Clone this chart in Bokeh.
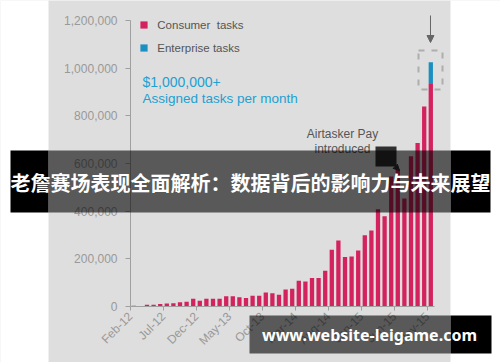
import math
from bokeh.plotting import figure
from bokeh.models import (Range1d, FixedTicker, NumeralTickFormatter, BoxAnnotation, Label,
                          Arrow, NormalHead, Legend, LegendItem, ColumnDataSource, LinearAxis)
from bokeh.embed import file_html
from bokeh.resources import INLINE

months = ["Feb-12", "Mar-12", "Apr-12", "May-12", "Jun-12", "Jul-12", "Aug-12", "Sep-12", "Oct-12", "Nov-12", "Dec-12",
          "Jan-13", "Feb-13", "Mar-13", "Apr-13", "May-13", "Jun-13", "Jul-13", "Aug-13", "Sep-13", "Oct-13", "Nov-13", "Dec-13",
          "Jan-14", "Feb-14", "Mar-14", "Apr-14", "May-14", "Jun-14", "Jul-14", "Aug-14", "Sep-14", "Oct-14", "Nov-14", "Dec-14",
          "Jan-15", "Feb-15", "Mar-15", "Apr-15", "May-15", "Jun-15", "Jul-15", "Aug-15", "Sep-15", "Oct-15", "Nov-15"]
consumer = [3000, 2500, 7000, 7000, 11000, 12500, 14000, 18000, 19500, 32000, 24000,
            32000, 32000, 32000, 43000, 43000, 39000, 36000, 45000, 45000, 59000, 56000, 49000,
            71000, 75000, 108000, 105000, 120000, 120000, 150000, 238000, 277000, 208000, 210000, 235000,
            299000, 319000, 408000, 379000, 545000, 575000, 453000, 630000, 686000, 839000, 934000]
enterprise = [0, 0, 0, 0, 0, 0, 0, 0, 0, 0, 0,
              0, 0, 0, 0, 0, 0, 0, 0, 0, 0, 0, 0,
              0, 0, 0, 0, 0, 0, 0, 0, 0, 0, 0, 0,
              0, 0, 0, 0, 0, 0, 0, 0, 0, 0, 91000]
tick_labels = ["Feb-12", "Jul-12", "Dec-12", "May-13", "Oct-13", "Mar-14", "Aug-14", "Jan-15", "Jun-15", "Nov-15"]
y_ticks = [0, 200000, 400000, 600000, 800000, 1000000, 1200000]

RED = "#d4225e"
BLUE = "#1b8fc1"
GRAY = "#dedede"
FONT = "Liberation Sans"

W, H = 500, 362
# layout of the chart area in page pixels
AX_L, AX_R, AX_B, AX_T = 130, 433.6, 306, 20
n = len(months)
px_x = (AX_R - AX_L) / n
px_y = (AX_B - AX_T) / y_ticks[-1]
x0 = -0.5 - AX_L / px_x
x1 = -0.5 + (W - AX_L) / px_x
y1 = AX_B / px_y
y0 = -(H - AX_B) / px_y

src = ColumnDataSource(dict(x=list(range(n)), consumer=consumer, enterprise=enterprise))

p = figure(width=W, height=H, output_backend="svg", toolbar_location=None,
           x_range=Range1d(x0, x1), y_range=Range1d(y0, y1),
           min_border=0, x_axis_type=None, y_axis_type=None)
p.background_fill_color = GRAY
p.border_fill_color = GRAY
p.outline_line_color = None
p.grid.grid_line_color = None

rs = p.vbar_stack(["consumer", "enterprise"], x="x", width=0.65, fill_color=[RED, BLUE],
                  line_color=None, source=src)

# axes drawn at fixed data locations inside the frame
yaxis = LinearAxis(ticker=FixedTicker(ticks=y_ticks), formatter=NumeralTickFormatter(format="0,0"),
                   fixed_location=-0.5, bounds=(0, y_ticks[-1]))
xaxis = LinearAxis(ticker=FixedTicker(ticks=[months.index(t) - 0.5 for t in tick_labels]),
                   major_label_overrides={months.index(t) - 0.5: t for t in tick_labels},
                   major_label_orientation=math.pi / 4,
                   fixed_location=0, bounds=(-0.5, n - 0.5))
for ax in (xaxis, yaxis):
    ax.axis_line_color = "#a0a0a0"
    ax.major_tick_line_color = "#a0a0a0"
    ax.minor_tick_line_color = None
    ax.major_tick_in = 0
    ax.major_label_text_color = "#999999"
    ax.major_label_text_font = FONT
    ax.major_label_text_font_size = "12px"
yaxis.major_tick_out = 5
yaxis.major_label_standoff = 8
xaxis.major_tick_out = 4
xaxis.major_label_standoff = 4
p.add_layout(yaxis, "left")
p.add_layout(xaxis, "below")

legend = Legend(items=[LegendItem(label="Consumer  tasks", renderers=[rs[0]]),
                       LegendItem(label="Enterprise tasks", renderers=[rs[1]])],
                location=(139.3, H - 57.5), padding=0, margin=0, spacing=3,
                glyph_width=9, glyph_height=9, label_standoff=9, label_height=20,
                label_text_font=FONT, label_text_font_size="11.5px", label_text_color="#555555",
                background_fill_alpha=0, border_line_alpha=0)
p.add_layout(legend)


# helpers: page pixel coords -> screen units (relative to frame bottom-left)
def sbox(xa, xb, ya, yb, **kw):
    return BoxAnnotation(left=xa, right=xb, top=H - ya, bottom=H - yb,
                         left_units="screen", right_units="screen",
                         top_units="screen", bottom_units="screen", **kw)


def slabel(x, y, text, **kw):
    return Label(x=x, y=H - y, x_units="screen", y_units="screen", text=text, **kw)


# white margins outside the chart image
p.add_layout(sbox(-5, 48, -10, 370, fill_color="white", fill_alpha=1, line_color=None))
p.add_layout(sbox(450, 505, -10, 370, fill_color="white", fill_alpha=1, line_color=None))

# annotations
p.add_layout(slabel(142, 81, "$1,000,000+", text_font=FONT, text_font_size="14px",
                    text_color="#22a0d2", text_baseline="middle"))
p.add_layout(slabel(142, 98, "Assigned tasks per month", text_font=FONT, text_font_size="13.5px",
                    text_color="#22a0d2", text_baseline="middle"))
p.add_layout(slabel(342, 133, "Airtasker Pay", text_font=FONT, text_font_size="12px",
                    text_color="#555555", text_baseline="middle", text_align="center"))
p.add_layout(slabel(342, 148, "introduced", text_font=FONT, text_font_size="12px",
                    text_color="#555555", text_baseline="middle", text_align="center"))
p.add_layout(sbox(375, 396, 146, 166, fill_color="#2f2f2f", fill_alpha=1, line_color=None))
p.add_layout(Arrow(end=NormalHead(size=6, fill_color="#2f2f2f", line_color="#2f2f2f"),
                   x_start=393, y_start=H - 164, x_end=399, y_end=H - 170,
                   start_units="screen", end_units="screen", line_color="#2f2f2f", line_width=1))
p.add_layout(sbox(418, 442, 50, 89, fill_alpha=0, line_color="#3a3a3a", line_width=2, line_dash="6 7"))
p.add_layout(Arrow(end=NormalHead(size=7, fill_color="#666666", line_color="#666666"),
                   x_start=430, y_start=H - 15, x_end=430, y_end=H - 42,
                   start_units="screen", end_units="screen", line_color="#666666", line_width=1))

# overlay bands
p.add_layout(sbox(10, 48, 150, 212, fill_color="black", fill_alpha=1, line_color=None))
p.add_layout(sbox(450, 490, 150, 212, fill_color="black", fill_alpha=1, line_color=None))
p.add_layout(sbox(48, 450, 150, 212, fill_color="black", fill_alpha=0.6, line_color=None))
p.add_layout(sbox(450, 491, 315, 353, fill_color="black", fill_alpha=1, line_color=None))
p.add_layout(sbox(249, 450, 315, 353, fill_color="black", fill_alpha=0.6, line_color=None))
p.add_layout(slabel(250, 182, "老詹赛场表现全面解析：数据背后的影响力与未来展望",
                    text_font="Noto Sans CJK SC", text_font_style="bold", text_font_size="20px",
                    text_color="white", text_align="center", text_baseline="middle"))
p.add_layout(slabel(369, 334, "www.website-leigame.com",
                    text_font="Noto Sans", text_font_style="bold", text_font_size="16px",
                    text_color="white", text_align="center", text_baseline="middle"))

open("out.html", "w").write(file_html(p, INLINE))
